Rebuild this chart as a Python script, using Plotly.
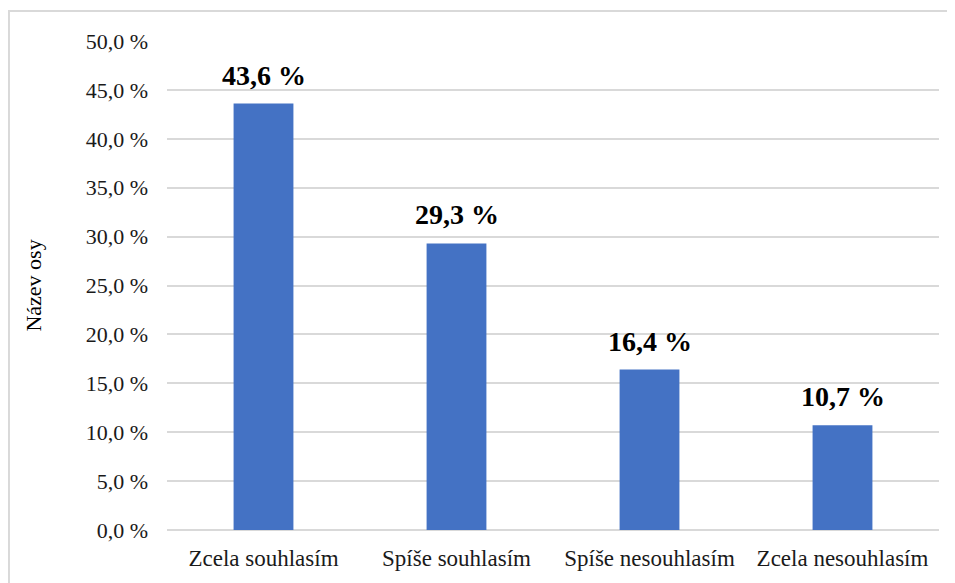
import plotly.graph_objects as go

# Data
categories = ["Zcela souhlasím", "Spíše souhlasím", "Spíše nesouhlasím", "Zcela nesouhlasím"]
values = [43.6, 29.3, 16.4, 10.7]
tick_vals = [0, 5, 10, 15, 20, 25, 30, 35, 40, 45, 50]
tick_text = [f"{v:.1f} %".replace(".", ",") for v in tick_vals]
bar_labels = [f"{v:.1f} %".replace(".", ",") for v in values]

serif = "Liberation Serif"

fig = go.Figure()

fig.add_trace(go.Bar(
    x=categories,
    y=values,
    marker=dict(color="#4472C4", line=dict(width=0)),
    showlegend=False,
    hoverinfo="x+y",
))

# value labels above the bars
for c, v, t in zip(categories, values, bar_labels):
    fig.add_annotation(
        x=c, y=v, text=t, showarrow=False,
        yanchor="bottom", yshift=11,
        font=dict(family=serif, size=28, color="#000000", weight="bold"),
    )

fig.update_layout(
    width=955,
    height=583,
    margin=dict(l=159, r=24, t=33, b=61),
    paper_bgcolor="white",
    plot_bgcolor="white",
    bargap=0.69,
    font=dict(family=serif, size=22, color="#1a1a1a"),
    xaxis=dict(
        showgrid=False,
        showline=False,
        ticks="",
        ticklabelstandoff=12,
        tickfont=dict(family=serif, size=23, color="#1a1a1a"),
    ),
    yaxis=dict(
        range=[0, 50],
        tickmode="array",
        tickvals=tick_vals,
        ticktext=tick_text,
        showgrid=True,
        gridcolor="#d9d9d9",
        gridwidth=1.5,
        zeroline=True,
        zerolinecolor="#d9d9d9",
        zerolinewidth=1.5,
        showline=False,
        ticks="",
        ticklabelstandoff=18,
        tickfont=dict(family=serif, size=22, color="#1a1a1a"),
        title=dict(text="Název osy", font=dict(family=serif, size=22, color="#000000"), standoff=37),
    ),
    shapes=[dict(
        type="rect", xref="paper", yref="paper",
        x0=-0.2047, x1=1.06, y0=-0.14, y1=1.0613,
        line=dict(color="#d9d9d9", width=2),
        fillcolor="rgba(0,0,0,0)",
        layer="below",
    )],
)

fig.write_html("out.html")
